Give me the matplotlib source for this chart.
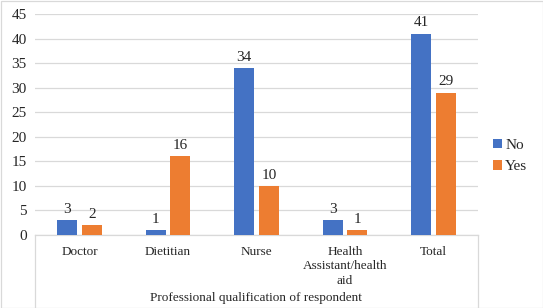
import matplotlib
matplotlib.use("Agg")
import matplotlib.pyplot as plt
from matplotlib.lines import Line2D
import numpy as np

categories = ["Doctor", "Dietitian", "Nurse", "Health\nAssistant/health\naid", "Total"]
no_vals = [3, 1, 34, 3, 41]
yes_vals = [2, 16, 10, 1, 29]
series_names = ["No", "Yes"]
yticks = [0, 5, 10, 15, 20, 25, 30, 35, 40, 45]
xlabel = "Professional qualification of respondent"

plt.rcParams['font.family'] = ['Liberation Serif', 'DejaVu Serif']

W, H = 543, 308
fig = plt.figure(figsize=(W / 100, H / 100), dpi=100)
left, right, bottom, top = 35.25, 477.75, 235, 14
ax = fig.add_axes([left / W, 1 - bottom / H, (right - left) / W, (bottom - top) / H])

blue = "#4472C4"
orange = "#ED7D31"
x = np.arange(len(categories))
bw = 0.226
off = 0.141
b1 = ax.bar(x - off, no_vals, bw, color=blue, label=series_names[0], zorder=3)
b2 = ax.bar(x + off, yes_vals, bw, color=orange, label=series_names[1], zorder=3)
for bars, vals in ((b1, no_vals), (b2, yes_vals)):
    for r, v in zip(bars, vals):
        ax.annotate(str(v), (r.get_x() + r.get_width() / 2, v), xytext=(0, 3),
                    textcoords="offset points", ha="center", va="bottom",
                    fontsize=11, color="#262626")

ax.set_xlim(-0.5, len(categories) - 0.5)
ax.set_ylim(0, 45)
ax.set_yticks(yticks)
ax.set_yticklabels([str(t) for t in yticks], fontsize=11, color="#262626")
ax.set_xticks(x)
ax.set_xticklabels(categories, fontsize=9.5, color="#262626", linespacing=1.25)
ax.tick_params(axis="both", length=0, pad=4)
ax.tick_params(axis="x", pad=8)
ax.tick_params(axis="y", pad=6)
ax.grid(axis="y", color="#D9D9D9", linewidth=0.9, zorder=0)
for s in ["top", "right", "left"]:
    ax.spines[s].set_visible(False)
ax.spines["bottom"].set_color("#D9D9D9")
ax.spines["bottom"].set_linewidth(0.9)

fig.text(256 / W, 1 - 298 / H, xlabel, ha="center", va="center", fontsize=9.5, color="#262626")

# frame lines below category axis
for xp in (left, right):
    fig.add_artist(Line2D([xp / W, xp / W], [1 - bottom / H, 0], transform=fig.transFigure,
                          color="#D9D9D9", linewidth=0.9))
# outer border
fig.add_artist(plt.Rectangle((0.5 / W, 0.5 / H), 1 - 1 / W, 1 - 1 / H, transform=fig.transFigure,
                             fill=False, edgecolor="#D9D9D9", linewidth=0.9))

leg = fig.legend(handles=[b1, b2], loc="center left", bbox_to_anchor=(493 / W, 1 - 156 / H),
                 frameon=False, fontsize=11, handlelength=0.6, handleheight=0.6,
                 handletextpad=0.2, labelspacing=0.55, borderaxespad=0, borderpad=0)
for t in leg.get_texts():
    t.set_color("#262626")

fig.savefig("out.png", dpi=100)
